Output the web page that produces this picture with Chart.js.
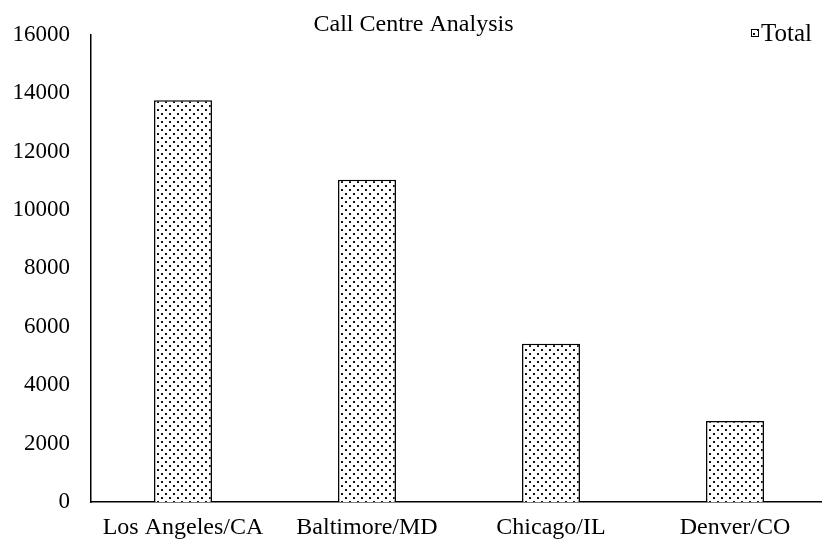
<!DOCTYPE html>
<html>
<head>
<meta charset="utf-8">
<script src="https://cdn.jsdelivr.net/npm/chart.js@4.4.0/dist/chart.umd.min.js"></script>
<style>
  html, body { margin: 0; padding: 0; background: #fff; overflow: hidden; }
  #wrap { position: relative; width: 828px; height: 547px; }
</style>
</head>
<body>
<div id="wrap"><canvas id="chart-1" width="828" height="547"></canvas></div>
<script>
var city_labels = ["Los Angeles/CA", "Baltimore/MD", "Chicago/IL", "Denver/CO"];
var total_values = [13760, 11040, 5420, 2770];
var y_min = 0;
var y_max = 16000;
var y_step = 2000;

// dotted fill like the excel pattern
function makeDots() {
  var c = document.createElement("canvas");
  c.width = 8;
  c.height = 8;
  var g = c.getContext("2d");
  g.fillStyle = "#fff";
  g.fillRect(0, 0, 8, 8);
  g.fillStyle = "#111";
  g.fillRect(1, 1, 2, 2);
  g.fillRect(5, 5, 2, 2);
  return g.createPattern(c, "repeat");
}

var dots = makeDots();
var serif = "'Liberation Serif', 'Times New Roman', serif";
Chart.defaults.font.family = serif;
Chart.defaults.color = "#000";

// small legend in the top right corner, over the plot
var cornerLegend = {
  id: "cornerLegend",
  afterDraw: function (chart) {
    var ds = chart.data.datasets[0];
    var ctx = chart.ctx;
    var x = chart.chartArea.right - 76;
    var y = 33;
    ctx.save();
    ctx.fillStyle = ds.backgroundColor;
    ctx.fillRect(x, y - 4, 8, 8);
    ctx.strokeStyle = "#000";
    ctx.lineWidth = 1;
    ctx.strokeRect(x + 0.5, y - 3.5, 7, 7);
    ctx.fillStyle = "#000";
    ctx.font = "25px " + serif;
    ctx.textBaseline = "middle";
    ctx.textAlign = "left";
    ctx.fillText(ds.label, x + 10, y + 1);
    ctx.restore();
  },
};

const chart1 = document.getElementById("chart-1").getContext("2d");
const myChart = new Chart(chart1, {
  type: "bar",
  data: {
    labels: city_labels,
    datasets: [
      {
        label: "Total",
        data: total_values,
        backgroundColor: dots,
        borderColor: "#000",
        borderWidth: 1.5,
        barPercentage: 0.315,
        categoryPercentage: 1,
      },
    ],
  },
  options: {
    responsive: false,
    animation: false,
    layout: { padding: { left: 0, right: 1, top: 0, bottom: 0 } },
    plugins: {
      title: {
        display: true,
        text: "Call Centre Analysis",
        color: "#000",
        font: { size: 24, weight: "normal", lineHeight: 0.84 },
        padding: { top: 10, bottom: 0 },
      },
      legend: { display: false },
      tooltip: { enabled: false },
    },
    scales: {
      x: {
        grid: { display: false, drawTicks: false },
        border: { display: true, color: "#000", width: 1.5 },
        ticks: { padding: 14, font: { size: 24, lineHeight: 1 }, color: "#000", maxRotation: 0, autoSkip: false },
        afterFit: function (s) { s.height = 45; },
      },
      y: {
        min: y_min,
        max: y_max,
        grid: { display: false, drawTicks: false },
        border: { display: true, color: "#000", width: 1.5 },
        ticks: {
          stepSize: y_step,
          padding: 21,
          font: { size: 23 },
          color: "#000",
          callback: function (v) { return String(v); },
        },
        afterFit: function (s) { s.width = 91; },
      },
    },
  },
  plugins: [cornerLegend],
});
</script>
</body>
</html>
